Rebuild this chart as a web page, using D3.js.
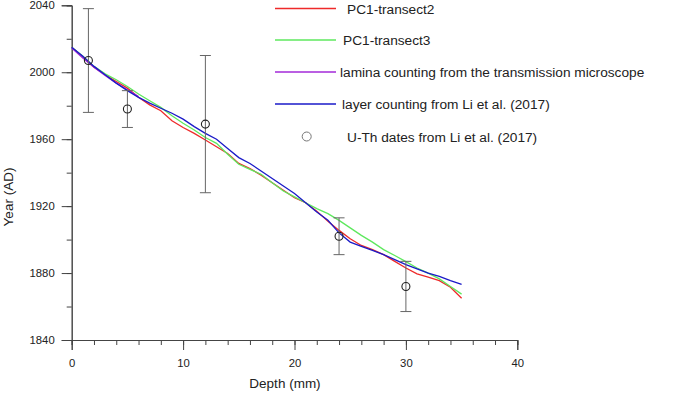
<!DOCTYPE html>
<html>
<head>
<meta charset="utf-8">
<script src="https://d3js.org/d3.v7.min.js"></script>
<style>
  body { margin: 0; background: #fff; }
  svg { font-family: "Liberation Sans", Arial, sans-serif; }
</style>
</head>
<body>
<svg id="chart" width="685" height="393"></svg>
<script>
// depth in mm, one value per mm
const depths = d3.range(0, 36);

// year (AD)
const pc1Transect2 = [2015.0, 2009.0, 2003.0, 1998.5, 1994.5, 1990.5, 1985.0, 1980.5, 1977.0, 1971.0,
    1967.0, 1963.5, 1959.5, 1955.5, 1951.5, 1945.5, 1942.5, 1938.5, 1934.0, 1929.5,
    1925.0, 1922.0, 1917.0, 1911.0, 1905.5, 1900.5, 1896.5, 1894.0, 1891.0, 1887.0,
    1883.0, 1879.5, 1877.5, 1875.5, 1871.5, 1865.0];
const pc1Transect3 = [2015.0, 2009.5, 2003.5, 1999.0, 1995.5, 1991.5, 1987.0, 1983.0, 1979.0, 1974.0,
    1969.5, 1965.5, 1961.0, 1957.5, 1951.0, 1945.0, 1942.0, 1939.0, 1934.0, 1929.0,
    1925.5, 1922.0, 1918.5, 1915.5, 1911.5, 1907.0, 1902.5, 1898.5, 1894.0, 1890.5,
    1886.8, 1883.0, 1880.0, 1876.5, 1872.0, 1867.4];
// microscope counting only shows at the top of the sample
const laminaMicroscope = [2014.5, 2008.5, 2003.0, 1998.0, 1993.5, 1989.5, 1985.5];
const layerLi2017 = [2015.0, 2009.5, 2003.5, 1998.5, 1993.5, 1989.0, 1985.0, 1981.5, 1978.5, 1975.5,
    1972.0, 1967.5, 1963.5, 1960.0, 1954.5, 1949.0, 1945.5, 1941.0, 1936.5, 1932.0,
    1927.5, 1922.0, 1916.5, 1911.5, 1904.0, 1898.5, 1896.0, 1893.5, 1891.0, 1888.0,
    1885.0, 1882.5, 1880.0, 1878.0, 1875.5, 1873.2];

// U-Th dates: depth, age, error
const uthDepth = [1.5, 5, 12, 24, 30];
const uthYear = [2007, 1978, 1969, 1902, 1872];
const uthError = [31, 11, 41, 11, 15];

const xTicks = [0, 10, 20, 30, 40];
const yTicks = [1840, 1880, 1920, 1960, 2000, 2040];

const seriesNames = ['PC1-transect2', 'PC1-transect3', 'lamina counting from the transmission microscope', 'layer counting from Li et al. (2017)'];
const seriesValues = [pc1Transect2, pc1Transect3, laminaMicroscope, layerLi2017];
const seriesColors = ['#ee2a2a', '#5ee85e', '#a32ad8', '#1a1ac8'];

const svg = d3.select('#chart');
const margin = { top: 5.3, left: 71.7, right: 167.7, bottom: 53 };
const width = 685, height = 393;

const xScale = d3.scaleLinear().domain([0, 40]).range([margin.left, width - margin.right]);
const yScale = d3.scaleLinear().domain([1840, 2040]).range([height - margin.bottom, margin.top]);

const axisColor = '#444';

// minor ticks first, then major ticks with labels
const xMinor = d3.axisBottom(xScale).tickValues(d3.range(0, 41, 2)).tickSize(5).tickFormat('');
const xMajor = d3.axisBottom(xScale).tickValues(xTicks).tickSize(10).tickPadding(9).tickFormat(d3.format('d'));
const yMinor = d3.axisLeft(yScale).tickValues(d3.range(1840, 2041, 20)).tickSize(5).tickFormat('');
const yMajor = d3.axisLeft(yScale).tickValues(yTicks).tickSize(10).tickPadding(7).tickFormat(d3.format('d'));

[xMinor, xMajor].forEach(a => {
    svg.append('g').attr('transform', `translate(0,${yScale(1840)})`).call(a);
});
[yMinor, yMajor].forEach(a => {
    svg.append('g').attr('transform', `translate(${xScale(0)},0)`).call(a);
});
svg.selectAll('.domain, .tick line').attr('stroke', axisColor).attr('stroke-width', 1);
svg.selectAll('.tick text').attr('fill', '#222').style('font-size', '11.3px');

// axis titles
svg.append('text')
    .attr('x', 285).attr('y', 388)
    .attr('text-anchor', 'middle')
    .style('font-size', '13.5px').attr('fill', '#222')
    .text('Depth (mm)');
svg.append('text')
    .attr('transform', 'translate(12.5,197) rotate(-90)')
    .attr('text-anchor', 'middle')
    .style('font-size', '13.5px').attr('fill', '#222')
    .text('Year (AD)');

// lines
const line = d3.line()
    .x((d, i) => xScale(depths[i]))
    .y(d => yScale(d));

seriesValues.forEach((vals, i) => {
    svg.append('path')
        .datum(vals)
        .attr('fill', 'none')
        .attr('stroke', seriesColors[i])
        .attr('stroke-width', 1.3)
        .attr('d', line);
});

// U-Th dates with error bars
const capW = 5.5;
uthDepth.forEach((dep, i) => {
    const cx = xScale(dep);
    const top = yScale(uthYear[i] + uthError[i]);
    const bot = yScale(uthYear[i] - uthError[i]);
    const g = svg.append('g').attr('stroke', '#666').attr('stroke-width', 1);
    g.append('line').attr('x1', cx).attr('x2', cx).attr('y1', top).attr('y2', bot);
    g.append('line').attr('x1', cx - capW).attr('x2', cx + capW).attr('y1', top).attr('y2', top);
    g.append('line').attr('x1', cx - capW).attr('x2', cx + capW).attr('y1', bot).attr('y2', bot);
    svg.append('circle')
        .attr('cx', cx).attr('cy', yScale(uthYear[i]))
        .attr('r', 4)
        .attr('fill', 'none')
        .attr('stroke', '#222')
        .attr('stroke-width', 1.1);
});

// legend
const legendY = [8.5, 40, 72, 104, 136.5];
const legendTextX = [347, 343, 340, 342, 347];
const legend = svg.append('g');
seriesNames.forEach((name, i) => {
    legend.append('line')
        .attr('x1', 275).attr('x2', 336)
        .attr('y1', legendY[i]).attr('y2', legendY[i])
        .attr('stroke', seriesColors[i]).attr('stroke-width', 1.3);
    legend.append('text')
        .attr('x', legendTextX[i]).attr('y', legendY[i] + 5)
        .style('font-size', '13.7px').attr('fill', '#222')
        .text(name);
});
legend.append('circle')
    .attr('cx', 306.7).attr('cy', legendY[4])
    .attr('r', 4.5)
    .attr('fill', 'none').attr('stroke', '#777').attr('stroke-width', 1);
legend.append('text')
    .attr('x', legendTextX[4]).attr('y', legendY[4] + 5)
    .style('font-size', '13.7px').attr('fill', '#222')
    .text('U-Th dates from Li et al. (2017)');
</script>
</body>
</html>
